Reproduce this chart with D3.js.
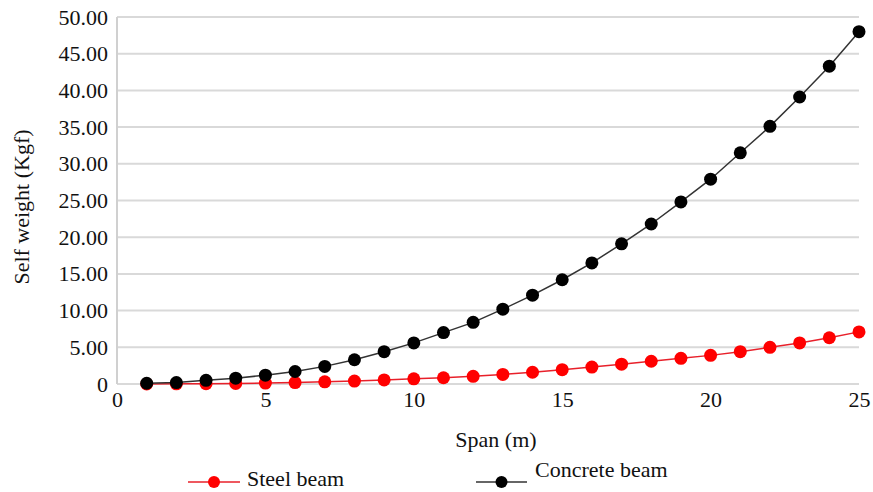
<!DOCTYPE html>
<html>
<head>
<meta charset="utf-8">
<script src="https://cdn.jsdelivr.net/npm/d3@7"></script>
</head>
<body style="margin:0">
<svg id="chart" width="873" height="492" style="display:block;background:#fff"></svg>
<script>
const spans = [1,2,3,4,5,6,7,8,9,10,11,12,13,14,15,16,17,18,19,20,21,22,23,24,25];
const steelBeam = [0.01,0.02,0.04,0.07,0.12,0.2,0.3,0.4,0.55,0.7,0.85,1.05,1.3,1.6,1.95,2.3,2.7,3.1,3.5,3.9,4.4,5.0,5.6,6.3,7.1];
const concreteBeam = [0.1,0.2,0.5,0.8,1.2,1.7,2.4,3.3,4.4,5.6,7.0,8.4,10.2,12.1,14.2,16.5,19.1,21.8,24.8,27.9,31.5,35.1,39.1,43.3,48.0];
const xTicks = [0,5,10,15,20,25];
const yTicks = [0,5,10,15,20,25,30,35,40,45,50];
const seriesNames = ["Steel beam","Concrete beam"];
const seriesColors = ["#ff0000","#000000"];
const lineColors = ["#e8202a","#333333"];

const FONT = "'Liberation Serif', monospace";

const svg = d3.select("#chart");
const x = d3.scaleLinear().domain([0,25]).range([117,859]);
const y = d3.scaleLinear().domain([0,50]).range([384,17]);

function serif(sel) {
  return sel.attr("font-family", FONT).style("font-family", FONT)
    .attr("font-size", 22).style("font-size", "22px").attr("fill", "#111");
}

// gridlines
svg.append("g").selectAll("line").data(yTicks).join("line")
  .attr("x1", x(0)).attr("x2", x(25))
  .attr("y1", d => y(d)).attr("y2", d => y(d))
  .attr("stroke", "#d9d9d9").attr("stroke-width", 2);

// y axis line
svg.append("line").attr("x1", x(0)).attr("x2", x(0)).attr("y1", y(50)).attr("y2", y(0))
  .attr("stroke", "#d0d0d0").attr("stroke-width", 2);

// y tick labels
const yAxis = d3.axisLeft(y).tickValues(yTicks).tickSize(0).tickPadding(9)
  .tickFormat(d => d === 0 ? "0" : d3.format(".2f")(d));
const gy = svg.append("g").attr("transform", `translate(${x(0)},0)`).call(yAxis);
gy.select(".domain").remove();
serif(gy);
serif(gy.selectAll("text"));

// x tick labels
const xAxis = d3.axisBottom(x).tickValues(xTicks).tickSize(0).tickPadding(7).tickFormat(d3.format("d"));
const gx = svg.append("g").attr("transform", `translate(0,${y(0)})`).call(xAxis);
gx.select(".domain").remove();
serif(gx);
serif(gx.selectAll("text"));

// titles
serif(svg.append("text").attr("x", 496).attr("y", 447).attr("text-anchor", "middle")).text("Span (m)");
serif(svg.append("text").attr("transform", "translate(29,207) rotate(-90)").attr("text-anchor", "middle")).text("Self weight (Kgf)");

// series
const data = [steelBeam, concreteBeam];
const line = d3.line().x((d,i) => x(spans[i])).y(d => y(d));
data.forEach((vals, k) => {
  svg.append("path").datum(vals).attr("d", line).attr("fill", "none")
    .attr("stroke", lineColors[k]).attr("stroke-width", 1.5);
  svg.append("g").selectAll("circle").data(vals).join("circle")
    .attr("cx", (d,i) => x(spans[i])).attr("cy", d => y(d)).attr("r", 6.5)
    .attr("fill", seriesColors[k]);
});

// legend
const legend = [
  {x1: 188, x2: 240, cy: 482, tx: 247, ty: 486},
  {x1: 476, x2: 527, cy: 482, tx: 535, ty: 477}
];
legend.forEach((L, k) => {
  svg.append("line").attr("x1", L.x1).attr("x2", L.x2).attr("y1", L.cy).attr("y2", L.cy)
    .attr("stroke", lineColors[k]).attr("stroke-width", 1.5);
  svg.append("circle").attr("cx", (L.x1 + L.x2)/2).attr("cy", L.cy).attr("r", 6)
    .attr("fill", seriesColors[k]);
  serif(svg.append("text").attr("x", L.tx).attr("y", L.ty)).text(seriesNames[k]);
});
</script>
</body>
</html>
